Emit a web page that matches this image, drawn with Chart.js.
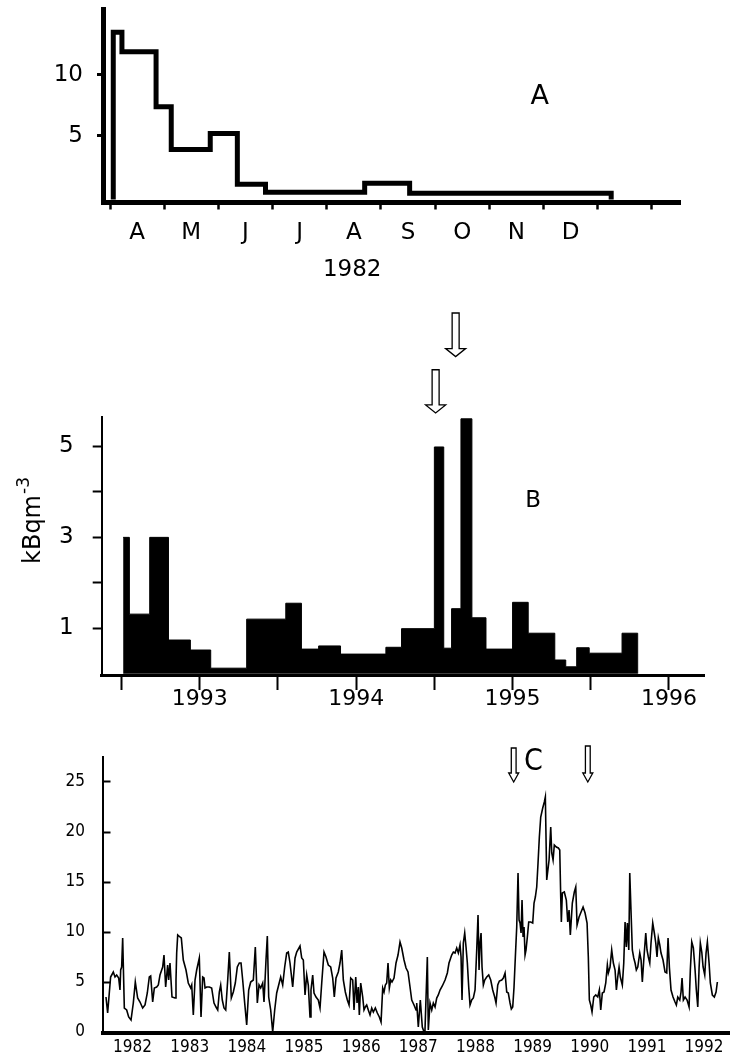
<!DOCTYPE html>
<html>
<head>
<meta charset="utf-8">
<script src="https://cdn.jsdelivr.net/npm/chart.js@4.4.1/dist/chart.umd.min.js"></script>
<style>
  body { margin: 0; background: #fff; }
  #page { position: relative; width: 730px; height: 1059px; }
  canvas { position: absolute; left: 0; }
</style>
</head>
<body>
<div id="page">
  <canvas id="chartA" width="730" height="290" style="top:0"></canvas>
  <canvas id="chartB" width="730" height="422" style="top:290px"></canvas>
  <canvas id="chartC" width="730" height="347" style="top:712px"></canvas>
</div>
<script>
// ---- panel A: 1982, step outline (months from 1 April) ----
const monthNamesA = ['A', 'M', 'J', 'J', 'A', 'S', 'O', 'N', 'D'];
const monthEdgesA = [0, 1, 2, 3, 4, 5, 6, 7, 8, 9, 10];
const stepXA = [0.06, 0.06, 0.22, 0.85, 1.13, 1.85, 2.35, 2.87, 4.70, 5.53, 9.25];
const stepYA = [0, 13.5, 11.9, 7.4, 3.9, 5.2, 1.05, 0.39, 1.12, 0.30, 0];
const yTicksA = [5, 10];

// ---- panel B: 1992-1996, filled histogram ----
const binStartB = [1992.51, 1992.55, 1992.68, 1992.80, 1992.94, 1993.07, 1993.30, 1993.55, 1993.65,
  1993.76, 1993.90, 1994.19, 1994.29, 1994.50, 1994.56, 1994.61, 1994.67, 1994.74, 1994.83,
  1995.00, 1995.10, 1995.27, 1995.34, 1995.41, 1995.49, 1995.70, 1995.80];
const binValueB = [3.0, 1.31, 3.0, 0.74, 0.52, 0.12, 1.20, 1.55, 0.54,
  0.61, 0.43, 0.58, 0.99, 4.99, 0.56, 1.43, 5.61, 1.23, 0.54,
  1.57, 0.89, 0.30, 0.15, 0.57, 0.45, 0.89, 0];
const yearTicksB = [1992.5, 1993, 1993.5, 1994, 1994.5, 1995, 1995.5, 1996];
const yTicksB = [1, 2, 3, 4, 5];
const yLabelsB = [1, 3, 5];

// ---- panel C: 1982-1992 series ----
const yearLabelsC = [1982, 1983, 1984, 1985, 1986, 1987, 1988, 1989, 1990, 1991, 1992];
const yTicksC = [0, 5, 10, 15, 20, 25];
const yearsC = [
  1982.035, 1982.064, 1982.116, 1982.163, 1982.193, 1982.222, 1982.257, 1982.280, 1982.292, 1982.309,
  1982.327, 1982.356, 1982.397, 1982.432, 1982.473, 1982.513, 1982.548, 1982.589, 1982.630, 1982.677,
  1982.718, 1982.758, 1982.793, 1982.817, 1982.852, 1982.881, 1982.922, 1982.951, 1982.980,
  1983.027, 1983.050, 1983.079, 1983.114, 1983.132, 1983.155, 1983.190, 1983.243, 1983.260, 1983.272,
  1983.290, 1983.330, 1983.353, 1983.388, 1983.435, 1983.475, 1983.517, 1983.535, 1983.563, 1983.593,
  1983.622, 1983.668, 1983.698, 1983.727, 1983.750, 1983.768, 1983.797, 1983.843, 1983.884, 1983.925,
  1983.960, 1983.990,
  1984.018, 1984.042, 1984.070, 1984.100, 1984.130, 1984.165, 1984.193, 1984.228, 1984.263, 1984.298,
  1984.333, 1984.368, 1984.398, 1984.427, 1984.462, 1984.497, 1984.532, 1984.567, 1984.613, 1984.648,
  1984.683, 1984.713, 1984.742, 1984.777, 1984.800, 1984.835, 1984.858, 1984.882, 1984.917, 1984.952,
  1984.987,
  1985.022, 1985.057, 1985.092, 1985.127, 1985.162, 1985.197, 1985.225, 1985.255, 1985.302, 1985.343,
  1985.372, 1985.430, 1985.460, 1985.488, 1985.518, 1985.547, 1985.575, 1985.605, 1985.622, 1985.652,
  1985.675, 1985.710, 1985.750, 1985.780, 1985.810, 1985.850, 1985.885, 1985.925, 1985.967,
  1986.002, 1986.030, 1986.060, 1986.100, 1986.130, 1986.160, 1986.188, 1986.223, 1986.258, 1986.288,
  1986.317, 1986.352, 1986.375, 1986.405, 1986.428, 1986.450, 1986.468, 1986.492, 1986.527, 1986.550,
  1986.573, 1986.597, 1986.625, 1986.655, 1986.685, 1986.713, 1986.748, 1986.783, 1986.818, 1986.848,
  1986.877, 1986.900, 1986.923, 1986.947, 1986.970, 1986.993,
  1987.017, 1987.040, 1987.075, 1987.110, 1987.145, 1987.180, 1987.210, 1987.250, 1987.285, 1987.320,
  1987.355, 1987.385, 1987.425, 1987.460, 1987.472, 1987.500, 1987.535, 1987.570, 1987.600, 1987.617,
  1987.658, 1987.675, 1987.705, 1987.735, 1987.763, 1987.793, 1987.822, 1987.850, 1987.880, 1987.920,
  1987.968,
  1988.008, 1988.037, 1988.055, 1988.084, 1988.113, 1988.143, 1988.172, 1988.200, 1988.230, 1988.248,
  1988.265, 1988.288, 1988.312, 1988.335, 1988.358, 1988.382, 1988.405, 1988.434, 1988.463, 1988.493,
  1988.522, 1988.545, 1988.563, 1988.580, 1988.598, 1988.615, 1988.638, 1988.662, 1988.697, 1988.732,
  1988.767, 1988.802, 1988.837, 1988.860, 1988.890, 1988.918, 1988.960, 1988.988,
  1989.018, 1989.047, 1989.075, 1989.105, 1989.128, 1989.152, 1989.175, 1989.198, 1989.222, 1989.245,
  1989.263, 1989.280, 1989.298, 1989.315, 1989.333, 1989.350, 1989.368, 1989.385, 1989.408, 1989.432,
  1989.467, 1989.502, 1989.525, 1989.548, 1989.572, 1989.595, 1989.618, 1989.642, 1989.677, 1989.705,
  1989.723, 1989.747, 1989.788, 1989.817, 1989.835, 1989.858, 1989.880, 1989.915, 1989.950, 1989.975,
  1989.992,
  1990.003, 1990.020, 1990.055, 1990.090, 1990.115, 1990.138, 1990.160, 1990.195, 1990.230, 1990.255,
  1990.278, 1990.313, 1990.348, 1990.383, 1990.418, 1990.453, 1990.475, 1990.493, 1990.517, 1990.540,
  1990.570, 1990.605, 1990.640, 1990.668, 1990.692, 1990.720, 1990.750, 1990.780, 1990.808, 1990.825,
  1990.855, 1990.884, 1990.913, 1990.943, 1990.966, 1990.990,
  1991.013, 1991.035, 1991.070, 1991.095, 1991.118, 1991.140, 1991.158, 1991.183, 1991.200, 1991.223,
  1991.245, 1991.270, 1991.293, 1991.315, 1991.340, 1991.375, 1991.398, 1991.420, 1991.445, 1991.480,
  1991.502, 1991.525, 1991.550, 1991.572, 1991.602, 1991.630, 1991.655, 1991.677, 1991.700, 1991.725,
  1991.747, 1991.782, 1991.817, 1991.847, 1991.870, 1991.893, 1991.922, 1991.957, 1991.992,
  1992.015, 1992.040, 1992.075, 1992.097, 1992.115, 1992.138, 1992.168, 1992.203, 1992.238, 1992.260,
  1992.285, 1992.313, 1992.343, 1992.365, 1992.390, 1992.413, 1992.435, 1992.460, 1992.483, 1992.512,
  1992.535, 1992.558, 1992.588, 1992.610, 1992.645, 1992.680, 1992.710, 1992.733
];
const levelsC = [
  3.5, 1.9, 5.5, 6.0, 5.5, 5.7, 5.4, 4.2, 6.2, 6.5,
  9.4, 2.4, 2.2, 1.5, 1.2, 2.9, 5.0, 3.4, 3.0, 2.4,
  2.7, 3.9, 5.5, 5.6, 3.0, 4.4, 4.5, 4.7, 5.7,
  6.5, 7.7, 4.5, 6.7, 5.2, 6.9, 3.5, 3.4, 5.2, 7.9,
  9.7, 9.5, 9.4, 7.2, 6.2, 4.9, 4.4, 4.7, 1.7, 5.2,
  6.2, 7.4, 1.5, 5.5, 5.4, 4.4, 4.5, 4.5, 4.4, 2.9,
  2.5, 2.2,
  4.0, 4.7, 3.2, 2.4, 2.2, 5.2, 8.0, 3.4, 4.0, 4.9,
  6.5, 6.9, 6.9, 5.2, 2.9, 0.7, 4.2, 5.0, 5.2, 8.5,
  2.9, 4.7, 4.4, 4.9, 3.0, 7.2, 9.6, 3.5, 2.2, 0.0,
  2.2,
  3.9, 4.7, 5.5, 4.7, 6.5, 7.9, 8.0, 6.9, 4.5, 7.4,
  8.0, 8.6, 7.4, 7.2, 3.7, 5.7, 4.7, 1.5, 4.2, 5.7,
  3.9, 3.5, 3.2, 2.4, 4.9, 8.0, 7.5, 6.7, 6.5,
  5.4, 3.5, 5.4, 6.0, 6.9, 8.2, 5.2, 4.0, 3.2, 2.7,
  5.4, 5.2, 2.2, 5.5, 2.9, 4.5, 1.7, 4.9, 3.5, 2.2,
  2.5, 2.7, 2.2, 1.7, 2.4, 2.0, 2.4, 1.9, 1.5, 1.0,
  4.4, 4.0, 4.7, 4.9, 6.9, 4.4,
  5.2, 5.0, 5.4, 6.9, 7.7, 9.0, 8.4, 7.2, 6.4, 6.0,
  4.5, 3.2, 2.7, 2.2, 2.9, 0.5, 3.2, 0.5, 0.0, 0.2,
  7.5, 0.2, 2.9, 2.2, 2.9, 2.5, 3.4, 3.7, 4.2, 4.6,
  5.2,
  5.9, 6.9, 7.2, 7.7, 8.0, 7.9, 8.4, 7.9, 8.7, 7.5,
  3.2, 8.9, 9.9, 8.5, 6.9, 4.5, 2.7, 3.2, 3.4, 4.2,
  8.2, 11.7, 6.2, 8.9, 9.9, 6.5, 4.7, 5.2, 5.5, 5.7,
  5.2, 4.2, 3.5, 2.9, 4.7, 5.1, 5.2, 5.4,
  5.9, 4.0, 3.9, 2.9, 2.3, 2.5, 4.5, 7.5, 10.5, 15.9,
  11.2, 10.9, 9.9, 13.2, 9.5, 10.5, 7.7, 8.2, 9.5, 11.0,
  11.0, 10.9, 12.9, 13.5, 14.5, 16.9, 19.5, 21.5, 22.4, 23.0,
  23.5, 15.2, 17.2, 20.5, 17.9, 17.2, 18.7, 18.5, 18.4, 18.2,
  13.5,
  11.0, 13.9, 14.0, 13.2, 11.0, 12.2, 9.7, 12.9, 14.0, 14.5,
  10.7, 11.5, 12.0, 12.5, 11.9, 10.9, 7.5, 3.2, 2.7, 2.0,
  3.5, 3.7, 3.5, 4.2, 2.2, 3.9, 4.0, 4.9, 6.7, 5.9,
  6.5, 8.2, 6.9, 6.2, 4.2, 5.5,
  6.5, 5.5, 4.7, 6.9, 11.0, 8.5, 10.9, 8.2, 15.9, 11.9,
  8.2, 7.4, 6.9, 6.2, 6.5, 7.9, 7.2, 5.0, 7.2, 9.9,
  8.2, 7.5, 6.9, 8.9, 10.9, 9.9, 8.9, 7.5, 9.4, 8.7,
  7.9, 7.2, 6.0, 5.9, 9.4, 6.5, 4.2, 3.5, 3.0,
  2.7, 3.5, 3.2, 4.0, 5.4, 3.2, 3.5, 3.2, 2.5, 6.2,
  9.0, 8.4, 6.2, 4.2, 2.5, 6.4, 8.9, 8.0, 6.5, 5.7,
  7.9, 9.0, 6.9, 4.9, 3.7, 3.5, 4.0, 5.0
];

// ---- annotations (arrows and letters), in data units ----
const arrowXB = [1994.508, 1994.636];
const arrowTopB = [6.69, 7.94];
const arrowTipB = [5.74, 6.98];
const arrowXC = [1989.169, 1990.466];
const arrowTopC = [28.4, 28.6];
const arrowTipC = [25.0, 25.0];

const SANS = "'DejaVu Sans', sans-serif";
const NARROW = "'DejaVu Sans Condensed', 'Liberation Sans Narrow', sans-serif";

Chart.defaults.color = '#000';
Chart.defaults.animation = false;
Chart.defaults.plugins.legend.display = false;
Chart.defaults.plugins.tooltip.enabled = false;

// fixed axis box sizes so the plot areas land where the figure has them
function fixWidth(w) {
  return (s) => { s.width = w; s.paddingTop = 0; s.paddingBottom = 0; s.paddingLeft = 0; s.paddingRight = 0; };
}
function fixHeight(h) {
  return (s) => { s.height = h; s.paddingTop = 0; s.paddingBottom = 0; s.paddingLeft = 0; s.paddingRight = 0; };
}
function setTicks(values) {
  return (s) => { s.ticks = values.map(v => ({ value: v })); };
}

// draws hollow arrows and free text at data positions
const notesPlugin = {
  id: 'notes',
  afterDraw(chart, args, opts) {
    const { ctx } = chart;
    const xs = chart.scales.x, ys = chart.scales.y;
    ctx.save();
    (opts.arrows || []).forEach(a => {
      const x = xs.getPixelForValue(a.x);
      const top = ys.getPixelForValue(a.top);
      const tip = ys.getPixelForValue(a.tip);
      const neck = tip - a.head;
      ctx.beginPath();
      ctx.moveTo(x - a.shaft, top);
      ctx.lineTo(x + a.shaft, top);
      ctx.lineTo(x + a.shaft, neck);
      ctx.lineTo(x + a.wing, neck);
      ctx.lineTo(x, tip);
      ctx.lineTo(x - a.wing, neck);
      ctx.lineTo(x - a.shaft, neck);
      ctx.closePath();
      ctx.fillStyle = '#fff';
      ctx.fill();
      ctx.lineWidth = 1.3;
      ctx.strokeStyle = '#000';
      ctx.stroke();
    });
    (opts.texts || []).forEach(t => {
      ctx.save();
      ctx.translate(xs.getPixelForValue(t.x), ys.getPixelForValue(t.y));
      if (t.rotate) ctx.rotate(t.rotate);
      ctx.fillStyle = '#000';
      ctx.textBaseline = 'middle';
      ctx.font = t.font;
      if (t.sup) {
        const w1 = ctx.measureText(t.text).width;
        ctx.font = t.supFont;
        const w2 = ctx.measureText(t.sup).width;
        ctx.textAlign = 'left';
        ctx.font = t.font;
        ctx.fillText(t.text, -(w1 + w2) / 2, 0);
        ctx.font = t.supFont;
        ctx.fillText(t.sup, -(w1 + w2) / 2 + w1 + 1, -10);
      } else {
        ctx.textAlign = 'center';
        ctx.fillText(t.text, 0, 0);
      }
      ctx.restore();
    });
    ctx.restore();
  }
};

// ---------- A ----------
const monthLabelA = new Map(monthNamesA.map((m, i) => [i + 0.5, m]));
new Chart(document.getElementById('chartA'), {
  type: 'line',
  data: {
    datasets: [{
      data: stepXA.map((x, i) => ({ x, y: stepYA[i] })),
      stepped: true,
      borderColor: '#000',
      borderWidth: 5,
      borderJoinStyle: 'miter',
      borderCapStyle: 'square',
      pointRadius: 0,
      fill: false
    }]
  },
  options: {
    responsive: false,
    layout: { autoPadding: false, padding: { left: 0, right: 50, top: 9, bottom: 0 } },
    scales: {
      x: {
        type: 'linear', min: -0.124, max: 10.52,
        afterBuildTicks: setTicks([...monthEdgesA, ...monthNamesA.map((m, i) => i + 0.5)].sort((a, b) => a - b)),
        afterFit: fixHeight(87.5),
        border: { color: '#000', width: 5 },
        grid: {
          drawOnChartArea: false, tickLength: 7, tickWidth: 2.5,
          tickColor: (c) => Number.isInteger(c.tick.value) ? '#000' : 'rgba(0,0,0,0)'
        },
        ticks: {
          autoSkip: false, maxRotation: 0, padding: 10,
          font: { family: SANS, size: 23 },
          callback: (v) => monthLabelA.get(v) || ''
        }
      },
      y: {
        min: -0.45, max: 15.4,
        afterBuildTicks: setTicks(yTicksA),
        afterFit: fixWidth(103.3),
        border: { color: '#000', width: 5 },
        grid: { drawOnChartArea: false, tickLength: 6.3, tickWidth: 3, tickColor: '#000' },
        ticks: { padding: 14, font: { family: SANS, size: 23 } }
      }
    },
    plugins: {
      notes: {
        texts: [
          { text: 'A', x: 7.93, y: 8.2, font: '27px ' + SANS },
          { text: '1982', x: 4.47, y: -5.98, font: '23px ' + SANS }
        ]
      }
    }
  },
  plugins: [notesPlugin]
});

// ---------- B ----------
new Chart(document.getElementById('chartB'), {
  type: 'line',
  data: {
    datasets: [{
      data: binStartB.map((x, i) => ({ x, y: binValueB[i] })),
      stepped: true,
      borderColor: '#000',
      borderWidth: 1,
      backgroundColor: '#000',
      pointRadius: 0,
      fill: 'origin'
    }]
  },
  options: {
    responsive: false,
    layout: { autoPadding: false, padding: { left: 0, right: 26, top: 127, bottom: 0 } },
    scales: {
      x: {
        type: 'linear', min: 1992.373, max: 1996.224,
        afterBuildTicks: setTicks(yearTicksB),
        afterFit: fixHeight(37),
        border: { color: '#000', width: 3 },
        grid: { drawOnChartArea: false, tickLength: 15, tickWidth: 2, tickColor: '#000' },
        ticks: {
          autoSkip: false, maxRotation: 0, padding: -4,
          font: { family: SANS, size: 22 },
          callback: (v) => Number.isInteger(v) ? String(v) : ''
        }
      },
      y: {
        min: -0.03, max: 5.65,
        afterBuildTicks: setTicks(yTicksB),
        afterFit: fixWidth(101.7),
        border: { color: '#000', width: 2 },
        grid: { drawOnChartArea: false, tickLength: 9, tickWidth: 2, tickColor: '#000' },
        ticks: {
          padding: 19, font: { family: SANS, size: 23 },
          callback: (v) => yLabelsB.includes(v) ? String(v) : ''
        }
      }
    },
    plugins: {
      notes: {
        arrows: arrowXB.map((x, i) => ({ x, top: arrowTopB[i], tip: arrowTipB[i], shaft: 3.5, wing: 10, head: 8 })),
        texts: [
          { text: 'B', x: 1995.131, y: 3.79, font: '23px ' + SANS },
          { text: 'kBqm', sup: '-3', x: 1991.941, y: 3.36, rotate: -Math.PI / 2,
            font: '24px ' + SANS, supFont: '17px ' + SANS }
        ]
      }
    }
  },
  plugins: [notesPlugin]
});

// ---------- C ----------
new Chart(document.getElementById('chartC'), {
  type: 'line',
  data: {
    datasets: [{
      data: yearsC.map((x, i) => ({ x, y: levelsC[i] })),
      borderColor: '#000',
      borderWidth: 1.6,
      pointRadius: 0,
      tension: 0,
      fill: false
    }]
  },
  options: {
    responsive: false,
    layout: { autoPadding: false, padding: { left: 0, right: 0, top: 45, bottom: 0 } },
    scales: {
      x: {
        type: 'linear', min: 1981.974, max: 1992.954,
        afterBuildTicks: setTicks(yearLabelsC.map(y => y + 0.5)),
        afterFit: fixHeight(26),
        border: { color: '#000', width: 4 },
        grid: { drawOnChartArea: false, drawTicks: false },
        ticks: {
          autoSkip: false, maxRotation: 0, padding: 4,
          font: { family: NARROW, size: 17 },
          callback: (v) => String(Math.floor(v))
        }
      },
      y: {
        min: -0.1, max: 27.5,
        afterBuildTicks: setTicks(yTicksC),
        afterFit: fixWidth(102.5),
        border: { color: '#000', width: 2 },
        grid: { drawOnChartArea: false, tickLength: -8, tickWidth: 2, tickColor: '#000' },
        ticks: { padding: 25.5, font: { family: NARROW, size: 17 } }
      }
    },
    plugins: {
      notes: {
        arrows: arrowXC.map((x, i) => ({ x, top: arrowTopC[i], tip: arrowTipC[i], shaft: 2.4, wing: 5, head: 9 })),
        texts: [
          { text: 'C', x: 1989.515, y: 26.95, font: '30px ' + NARROW }
        ]
      }
    }
  },
  plugins: [notesPlugin]
});
</script>
</body>
</html>
